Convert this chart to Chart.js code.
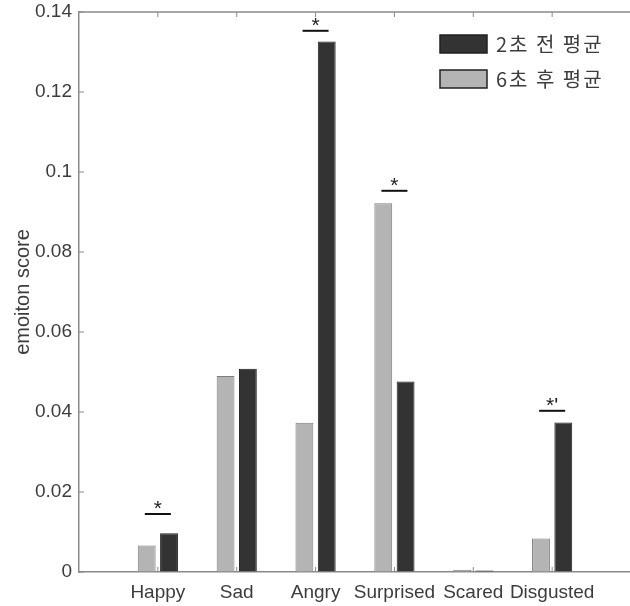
<!DOCTYPE html>
<html>
<head>
<meta charset="utf-8">
<script src="https://cdn.jsdelivr.net/npm/chart.js@4.4.1/dist/chart.umd.min.js"></script>
<style>
  html, body { margin: 0; padding: 0; background: #fff; overflow: hidden; }
  #wrap { width: 640px; height: 606px; }
</style>
</head>
<body>
<div id="wrap"><canvas id="chart" width="640" height="606"></canvas></div>
<script>
// categories and series values
const categories = ["Happy", "Sad", "Angry", "Surprised", "Scared", "Disgusted"];
const after6s = [0.0066, 0.0490, 0.0373, 0.0922, 0.0005, 0.0084];
const before2s = [0.0097, 0.0508, 0.1326, 0.0476, 0.0004, 0.0374];
const seriesNames = ["6초 후 평균", "2초 전 평균"];
const seriesColors = ["#b4b4b4", "#333333"];
const seriesBorders = ["#7c7c7c", "#1e1e1e"];
const yTicks = [0, 0.02, 0.04, 0.06, 0.08, 0.1, 0.12, 0.14];
// significance markers: category, line height, mark
const sigCats = ["Happy", "Angry", "Surprised", "Disgusted"];
const sigLevels = [0.0145, 0.1353, 0.0953, 0.0403];
const sigMarks = ["*", "*", "*", "*'"];

// blank slots at both ends so the axis spans 0..7 like the original
const labels = [""].concat(categories, [""]);
const pad = arr => [null].concat(arr, [null]);

const axisColor = "#8a8a8a";
const textColor = "#3c3c3c";
const fontFamily = "'Liberation Sans', Arial, sans-serif";

const decorPlugin = {
  id: "decor",
  afterDraw(chart) {
    const ctx = chart.ctx;
    const area = chart.chartArea;
    const x = chart.scales.x;
    const y = chart.scales.y;
    ctx.save();
    // top box line
    ctx.strokeStyle = axisColor;
    ctx.lineWidth = 1.5;
    ctx.beginPath();
    ctx.moveTo(area.left, area.top);
    ctx.lineTo(area.right, area.top);
    ctx.stroke();
    // inward ticks
    ctx.lineWidth = 1;
    ctx.beginPath();
    yTicks.forEach(v => {
      const py = y.getPixelForValue(v);
      ctx.moveTo(area.left, py);
      ctx.lineTo(area.left + 5, py);
    });
    categories.forEach((c, i) => {
      const px = x.getPixelForValue(i + 1);
      ctx.moveTo(px, area.bottom);
      ctx.lineTo(px, area.bottom - 5);
      ctx.moveTo(px, area.top);
      ctx.lineTo(px, area.top + 5);
    });
    ctx.stroke();

    // significance lines and marks
    const step = x.getPixelForValue(2) - x.getPixelForValue(1);
    ctx.strokeStyle = "#111";
    ctx.fillStyle = "#222";
    ctx.lineWidth = 2;
    ctx.font = "21px " + fontFamily;
    ctx.textAlign = "center";
    ctx.textBaseline = "alphabetic";
    sigCats.forEach((c, i) => {
      const px = x.getPixelForValue(categories.indexOf(c) + 1);
      const py = y.getPixelForValue(sigLevels[i]);
      const half = step * 0.165;
      ctx.beginPath();
      ctx.moveTo(px - half, py);
      ctx.lineTo(px + half, py);
      ctx.stroke();
      ctx.fillText(sigMarks[i], px, py + 1);
    });

    // legend (reverse order, drawn inside the axes)
    ctx.font = "20px 'Noto Sans CJK KR', sans-serif";
    ctx.letterSpacing = "2px";
    ctx.textAlign = "left";
    ctx.textBaseline = "middle";
    ctx.lineWidth = 1.5;
    const order = [1, 0];
    order.forEach((d, k) => {
      const bx = 440, by = area.top + 23 + k * 35;
      ctx.fillStyle = seriesColors[d];
      ctx.fillRect(bx, by, 47, 18);
      ctx.strokeStyle = "#222";
      ctx.strokeRect(bx, by, 47, 18);
      ctx.fillStyle = textColor;
      ctx.fillText(seriesNames[d], bx + 56, by + 9);
    });
    ctx.restore();
  }
};

new Chart(document.getElementById("chart"), {
  type: "bar",
  data: {
    labels: labels,
    datasets: [
      {
        label: seriesNames[0],
        data: pad(after6s),
        backgroundColor: seriesColors[0],
        borderColor: seriesBorders[0],
        borderWidth: 1
      },
      {
        label: seriesNames[1],
        data: pad(before2s),
        backgroundColor: seriesColors[1],
        borderColor: seriesBorders[1],
        borderWidth: 1
      }
    ]
  },
  options: {
    responsive: false,
    animation: false,
    layout: { padding: { top: 12, right: 5, left: 0, bottom: 0 } },
    datasets: { bar: { categoryPercentage: 0.566, barPercentage: 0.8 } },
    plugins: {
      legend: { display: false },
      tooltip: { enabled: false }
    },
    scales: {
      x: {
        offset: false,
        grid: { display: true, drawOnChartArea: false, drawTicks: false },
        border: { display: true, color: axisColor, width: 1.5 },
        ticks: {
          color: textColor,
          padding: 9,
          maxRotation: 0,
          autoSkip: false,
          font: { size: 19, family: fontFamily }
        },
        afterFit: s => { s.height = 34; }
      },
      y: {
        min: 0,
        max: 0.14,
        grid: { display: true, drawOnChartArea: false, drawTicks: false },
        border: { display: true, color: axisColor, width: 1.5 },
        afterBuildTicks: s => { s.ticks = yTicks.map(v => ({ value: v })); },
        ticks: {
          color: textColor,
          padding: 7,
          font: { size: 19, family: fontFamily },
          callback: v => String(Number(v.toFixed(2)))
        },
        title: {
          display: true,
          text: "emoiton score",
          color: textColor,
          padding: { top: 11, bottom: 0 },
          font: { size: 20, family: fontFamily }
        },
        afterFit: s => {
          s.width = 79;
          s.paddingTop = 0;
          s.paddingBottom = 0;
        }
      }
    }
  },
  plugins: [decorPlugin]
});
</script>
</body>
</html>
